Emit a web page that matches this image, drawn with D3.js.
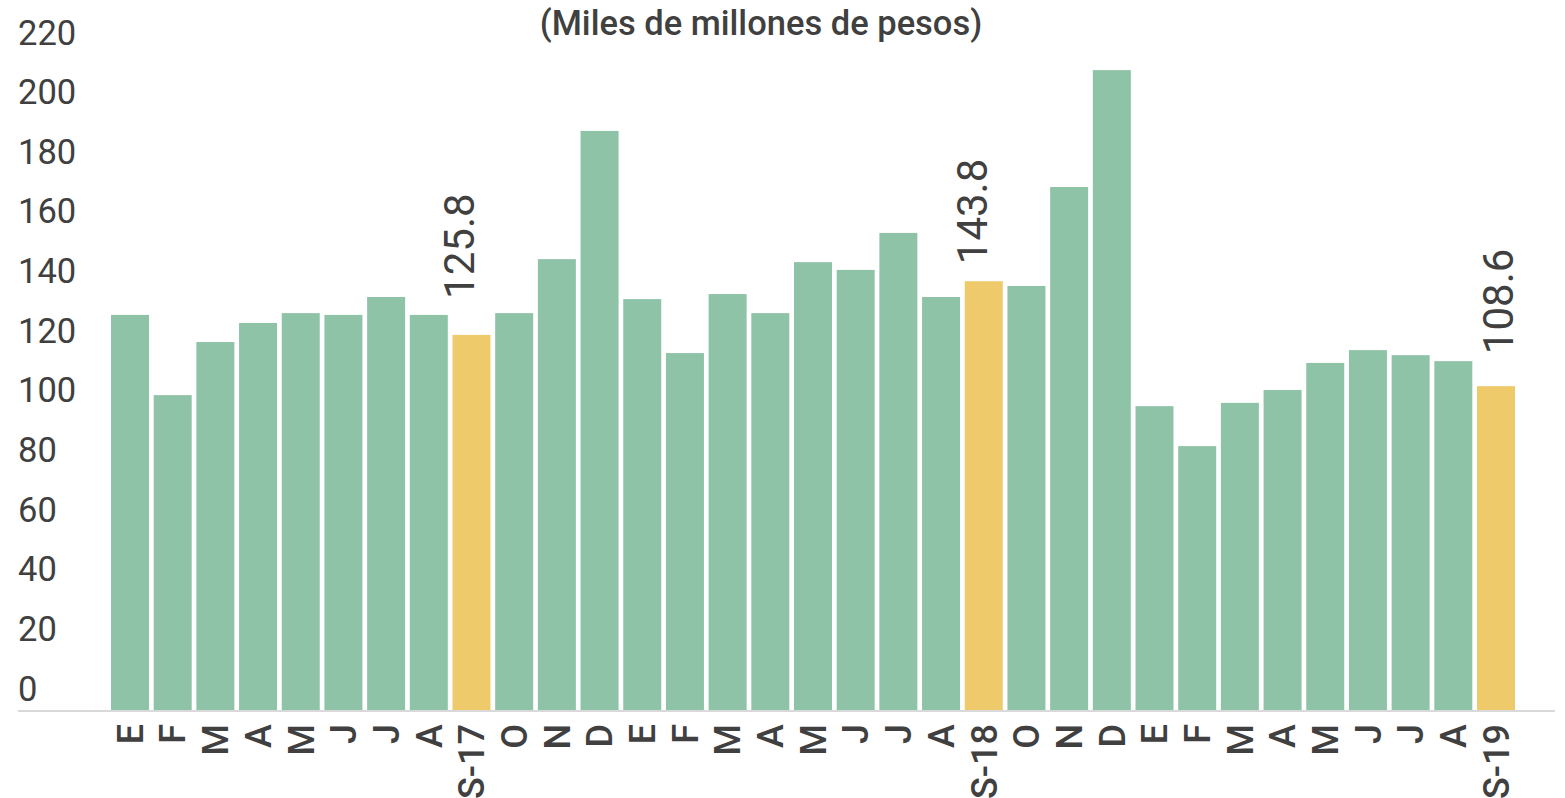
<!DOCTYPE html>
<html>
<head>
<meta charset="utf-8">
<script src="https://cdn.jsdelivr.net/npm/d3@7"></script>
<style>
  html, body { margin: 0; padding: 0; background: #ffffff; }
  svg { display: block; }
  text { font-family: Roboto, "Noto Sans", sans-serif; fill: #404040; }
</style>
</head>
<body>
<svg id="chart" width="1565" height="798"></svg>
<script>
// Monthly figures, Jan 2017 – Sep 2019 (miles de millones de pesos)
const months = [
  "E","F","M","A","M","J","J","A","S-17","O","N","D",
  "E","F","M","A","M","J","J","A","S-18","O","N","D",
  "E","F","M","A","M","J","J","A","S-19"
];
const values = [
  132.5, 105.6, 123.4, 129.8, 133.1, 132.5, 138.5, 132.5, 125.8, 133.1, 151.2, 194.2,
  137.8, 119.7, 139.5, 133.1, 150.2, 147.6, 160.0, 138.5, 143.8, 142.2, 175.4, 214.6,
  101.9, 88.5, 103.0, 107.3, 116.4, 120.7, 119.0, 117.0, 108.6
];
// September of each year is highlighted and labelled with its value
const highlighted = ["S-17", "S-18", "S-19"];
const yTicks = [0, 20, 40, 60, 80, 100, 120, 140, 160, 180, 200, 220];
const title = "(Miles de millones de pesos)";

// Layout
const baseY = 710;
const colors = { bar: "#8ec3a7", highlight: "#eeca6a", axis: "#d9d9d9" };
// per-label placement tweaks for the value annotations (baseline dx, gap above bar)
const valueLabelNudge = { "S-17": [3, 36], "S-18": [3, 17], "S-19": [17, 32] };

const svg = d3.select("#chart");

const x = d3.scaleBand()
  .domain(d3.range(months.length))
  .range([108.65, 1517.35])
  .paddingInner(0.11)
  .paddingOuter(0.055);

const y = d3.scaleLinear().domain([0, 220]).range([baseY, 54]);

// Title
svg.append("text")
  .attr("x", 761)
  .attr("y", 35)
  .attr("text-anchor", "middle")
  .style("font-size", "34.5px")
  .style("font-weight", 500)
  .text(title);

// Y tick labels (left aligned, no gridlines)
const yAxis = d3.axisLeft(y).tickValues(yTicks).tickSize(0).tickFormat(d3.format("d"));
const gy = svg.append("g").attr("transform", "translate(18,0)").call(yAxis);
gy.select(".domain").remove();
gy.selectAll(".tick text")
  .attr("x", 0)
  .attr("dy", -10)
  .attr("text-anchor", "start")
  .style("font-size", "34.5px")
  .style("font-family", "Roboto, sans-serif")
  .attr("fill", "#404040");

// Baseline
svg.append("line")
  .attr("x1", 18).attr("x2", 1555)
  .attr("y1", 711).attr("y2", 711)
  .attr("stroke", colors.axis)
  .attr("stroke-width", 2);

// Bars
svg.append("g").selectAll("rect")
  .data(values)
  .join("rect")
  .attr("x", (d, i) => x(i))
  .attr("y", d => y(d))
  .attr("width", x.bandwidth())
  .attr("height", d => baseY - y(d))
  .attr("fill", (d, i) => highlighted.includes(months[i]) ? colors.highlight : colors.bar);

// X labels, rotated
const xAxis = d3.axisBottom(x).tickSize(0).tickFormat(i => months[i]);
const gx = svg.append("g").attr("transform", `translate(0,${baseY})`).call(xAxis);
gx.select(".domain").remove();
gx.selectAll(".tick text")
  .attr("transform", "translate(0,14) rotate(-90)")
  .attr("x", 0)
  .attr("y", 0)
  .attr("dy", "0.355em")
  .attr("text-anchor", "end")
  .style("font-size", "36px")
  .style("font-weight", 500)
  .style("font-family", "Roboto, sans-serif")
  .attr("fill", "#404040");

// Value annotations on the highlighted bars
const labelled = d3.range(months.length).filter(i => highlighted.includes(months[i]));
svg.append("g").selectAll("text")
  .data(labelled)
  .join("text")
  .attr("transform", i => {
    const [dx, gap] = valueLabelNudge[months[i]];
    const cx = x(i) + x.bandwidth() / 2 + dx;
    return `translate(${cx},${y(values[i]) - gap}) rotate(-90)`;
  })
  .attr("text-anchor", "start")
  .style("font-size", "42px")
  .text(i => values[i].toFixed(1));
</script>
</body>
</html>
